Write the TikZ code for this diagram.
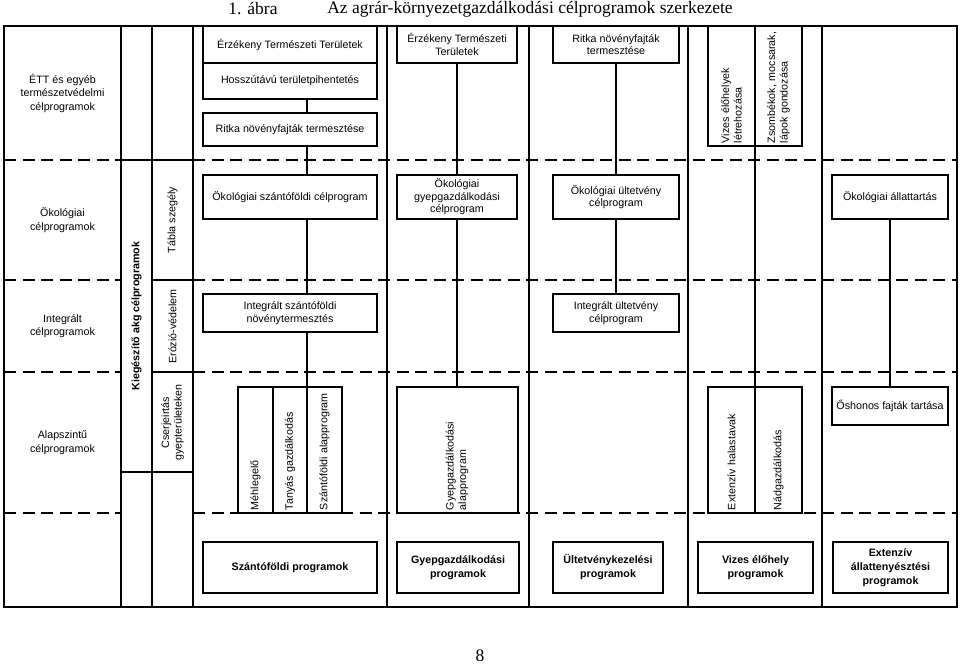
\documentclass[tikz,border=0pt]{standalone}
\usepackage{fontspec}
\setmainfont{Liberation Sans}
\newfontfamily\titlefont{Liberation Serif}

\begin{document}
\begin{tikzpicture}[x=1pt, y=-1pt,
    every node/.style={font=\fontsize{10.7}{12.5}\selectfont},
    gridLine/.style={draw=borderColour, line width=2pt},
    rowLine/.style={draw=borderColour, line width=2pt, dash pattern=on 12pt off 6.5pt},
    progBox/.style={draw=borderColour, line width=2.2pt, align=center, inner sep=1pt},
    sumBox/.style={progBox, font=\fontsize{10.7}{14}\selectfont\bfseries},
    vertTop/.style={draw=borderColour, line width=2pt, rotate=90, align=left,
        inner xsep=3pt, inner ysep=1pt, text width=114pt, minimum width=120pt},
    vertLow/.style={vertTop, text width=120pt, minimum width=126pt},
    cellText/.style={rotate=90, align=center},
    rowLabel/.style={align=center, font=\fontsize{10.7}{13.5}\selectfont},
    link/.style={draw=borderColour, line width=2pt}]
    % Define colours
    \definecolor{borderColour}{HTML}{000000}

    % Define frame limits
    \def\xLeft{4}
    \def\xRight{957}
    \def\yTop{26}
    \def\yBottom{607}

    \useasboundingbox (0,0) rectangle (960,664);

    % Title and page number
    \node[font=\titlefont\fontsize{17.5}{19}\selectfont] (figNum) at (253,9) {1. ábra};
    \node[font=\titlefont\fontsize{17.5}{19}\selectfont] (figTitle) at (530,9) {Az agrár-környezetgazdálkodási célprogramok szerkezete};
    \node[font=\titlefont\fontsize{17.5}{19}\selectfont] (pageNum) at (480,656) {8};

    % Draw frame and columns
    \draw[gridLine] (\xLeft,\yTop) rectangle (\xRight,\yBottom);
    \foreach \x in {121,152,193,387,529,688,822}
        \draw[gridLine] (\x,\yTop) -- (\x,\yBottom);

    % Draw rows (dashed), skipping the two narrow columns
    \foreach \y in {160,280,372,513} {
        \draw[rowLine] (\xLeft,\y) -- (121,\y);
        \draw[rowLine] (193,\y) -- (\xRight,\y);
    }
    \draw[gridLine] (121,160) -- (193,160);
    \draw[gridLine] (152,280) -- (193,280);
    \draw[gridLine] (152,372) -- (193,372);
    \draw[gridLine] (121,472) -- (193,472);

    % Row labels
    \node[rowLabel] (ettLabel) at (62.5,93) {ÉTT és egyéb\\természetvédelmi\\célprogramok};
    \node[rowLabel] (oekLabel) at (62.5,220) {Ökológiai\\célprogramok};
    \node[rowLabel] (intLabel) at (62.5,326) {Integrált\\célprogramok};
    \node[rowLabel] (alapLabel) at (62.5,442.5) {Alapszintű\\célprogramok};

    % Narrow columns
    \node[cellText, font=\fontsize{10.7}{12.5}\selectfont\bfseries] (kieg) at (136.5,316) {Kiegészítő akg célprogramok};
    \node[cellText] (tabla) at (172.5,220) {Tábla szegély};
    \node[cellText] (erozio) at (172.5,326.5) {Erózió-védelem};
    \node[cellText] (cserje) at (172.5,422.5) {Cserjeirtás\\gyepterületeken};

    % Top row boxes
    \node[progBox, minimum width=174pt, minimum height=37pt] (ettA) at (290,44.5) {Érzékeny Természeti Területek};
    \node[progBox, minimum width=174pt, minimum height=36pt] (hosszu) at (290,81) {Hosszútávú területpihentetés};
    \node[progBox, minimum width=174pt, minimum height=33pt] (ritkaA) at (290,129.5) {Ritka növényfajták termesztése};
    \node[progBox, minimum width=120pt, minimum height=37pt] (ettB) at (457,44.5) {Érzékeny Természeti\\Területek};
    \node[progBox, minimum width=126pt, minimum height=37pt] (ritkaB) at (616,44.5) {Ritka növényfajták\\termesztése};
    \node[vertTop, minimum height=47pt] (vizes) at (731.5,86) {Vizes élőhelyek\\létrehozása};
    \node[vertTop, minimum height=47pt] (zsomb) at (778.5,86) {Zsombékok, mocsarak,\\lápok gondozása};

    % Ecological row
    \node[progBox, minimum width=174pt, minimum height=44pt] (oekSzanto) at (290,197) {Ökológiai szántóföldi célprogram};
    \node[progBox, minimum width=120pt, minimum height=44pt] (oekGyep) at (457,197) {Ökológiai\\gyepgazdálkodási\\célprogram};
    \node[progBox, minimum width=126pt, minimum height=44pt] (oekUlt) at (616,197) {Ökológiai ültetvény\\célprogram};
    \node[progBox, minimum width=116pt, minimum height=44pt] (oekAllat) at (890,197) {Ökológiai állattartás};

    % Integrated row
    \node[progBox, minimum width=174pt, minimum height=38pt] (intSzanto) at (290,313) {Integrált szántóföldi\\növénytermesztés};
    \node[progBox, minimum width=126pt, minimum height=38pt] (intUlt) at (616,313) {Integrált ültetvény\\célprogram};

    % Basic row
    \node[vertLow, minimum height=35pt] (mehleg) at (255.5,450) {Méhlegelő};
    \node[vertLow, minimum height=34pt] (tanyas) at (290,450) {Tanyás gazdálkodás};
    \node[vertLow, minimum height=35pt] (szantoAlap) at (324.5,450) {Szántóföldi alapprogram};
    \node[vertLow, minimum height=121pt] (gyepAlap) at (457,450) {Gyepgazdálkodási\\alapprogram};
    \node[vertLow, minimum height=47pt] (extenziv) at (731.5,450) {Extenzív halastavak};
    \node[vertLow, minimum height=47pt] (nadgazd) at (778.5,450) {Nádgazdálkodás};
    \node[progBox, minimum width=116pt, minimum height=38pt] (oshonos) at (890,406) {Őshonos fajták tartása};

    % Programme groups
    \node[sumBox, minimum width=174pt, minimum height=51pt] (sumSzanto) at (290,567.5) {Szántóföldi programok};
    \node[sumBox, minimum width=122pt, minimum height=51pt] (sumGyep) at (458,567.5) {Gyepgazdálkodási\\programok};
    \node[sumBox, minimum width=110pt, minimum height=51pt] (sumUlt) at (608,567.5) {Ültetvénykezelési\\programok};
    \node[sumBox, minimum width=115pt, minimum height=51pt] (sumVizes) at (755.5,567.5) {Vizes élőhely\\programok};
    \node[sumBox, minimum width=115pt, minimum height=51pt] (sumAllat) at (890.5,567.5) {Extenzív\\állattenyésztési\\programok};

    % Draw links
    \coordinate (fieldAxis) at (307,0);
    \coordinate (wetAxis) at (755,0);
    \draw[link] (fieldAxis |- hosszu.south) -- (fieldAxis |- ritkaA.north);
    \draw[link] (fieldAxis |- ritkaA.south) -- (fieldAxis |- oekSzanto.north);
    \draw[link] (fieldAxis |- oekSzanto.south) -- (fieldAxis |- intSzanto.north);
    \draw[link] (fieldAxis |- intSzanto.south) -- (fieldAxis |- tanyas.east);
    \draw[link] (ettB.south) -- (oekGyep.north);
    \draw[link] (oekGyep.south) -- (gyepAlap.east);
    \draw[link] (ritkaB.south) -- (oekUlt.north);
    \draw[link] (oekUlt.south) -- (intUlt.north);
    \draw[link] (wetAxis |- vizes.west) -- (wetAxis |- extenziv.east);
    \draw[link] (oekAllat.south) -- (oshonos.north);

\end{tikzpicture}
\end{document}
